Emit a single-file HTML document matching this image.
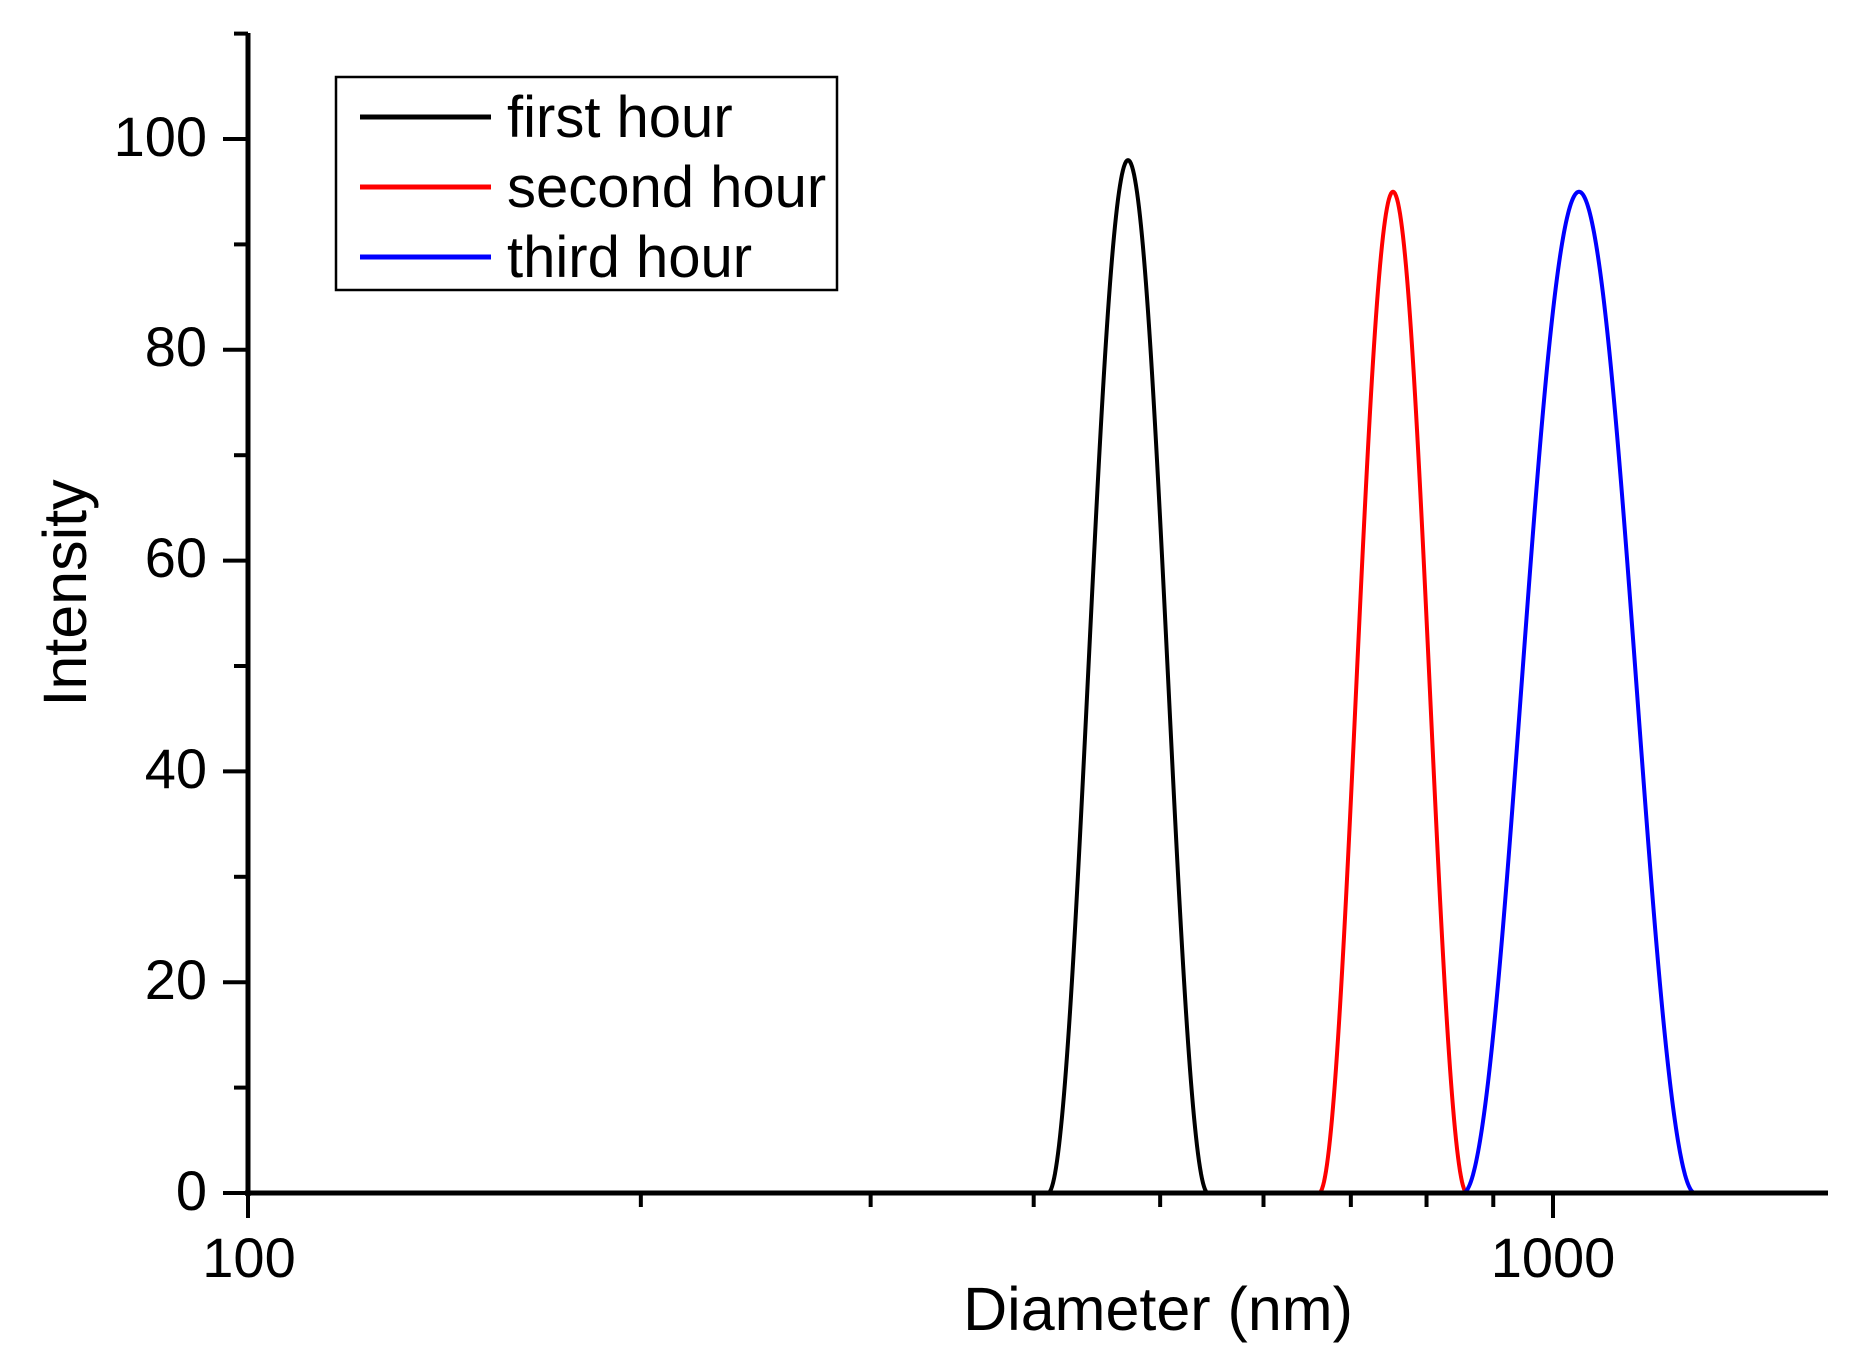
<!DOCTYPE html>
<html><head><meta charset="utf-8"><style>html,body{margin:0;padding:0;background:#fff}svg{display:block}</style></head>
<body>
<svg id="s" width="1859" height="1366" viewBox="0 0 1859 1366" xmlns="http://www.w3.org/2000/svg" font-family="Liberation Sans, Arial, sans-serif">
<g id="curves" fill="none" stroke-width="4" stroke-linejoin="round"></g>
<g stroke="#000" stroke-width="5" fill="none">
<line x1="248" y1="33" x2="248" y2="1196"/>
<line x1="245" y1="1193" x2="1828" y2="1193"/>
</g>
<g id="ticks" stroke="#000" stroke-width="4"></g>
<g font-size="56" fill="#000">
<text x="207" y="1210" text-anchor="end">0</text>
<text x="207" y="999" text-anchor="end">20</text>
<text x="207" y="788" text-anchor="end">40</text>
<text x="207" y="577" text-anchor="end">60</text>
<text x="207" y="366" text-anchor="end">80</text>
<text x="207" y="156" text-anchor="end">100</text>
<text x="249" y="1277" text-anchor="middle">100</text>
<text x="1553" y="1277" text-anchor="middle">1000</text>
<text x="1158" y="1330" text-anchor="middle" font-size="61">Diameter (nm)</text>
<text transform="translate(86,593) rotate(-90)" text-anchor="middle" font-size="61">Intensity</text>
</g>
<rect x="336" y="77" width="501" height="213" fill="none" stroke="#000" stroke-width="2.5"/>
<g stroke-width="5">
<line x1="360" y1="117" x2="491" y2="117" stroke="#000"/>
<line x1="360" y1="187" x2="491" y2="187" stroke="#f00"/>
<line x1="360" y1="257" x2="491" y2="257" stroke="#00f"/>
</g>
<g font-size="58" fill="#000">
<text x="507" y="137">first hour</text>
<text x="507" y="207">second hour</text>
<text x="507" y="277">third hour</text>
</g>
</svg>
<script>
var NS="http://www.w3.org/2000/svg";
function X(d){return 248+Math.log10(d/100)*1305;}
function Y(v){return 1193-v*10.54;}
var t=document.getElementById('ticks'),h='';
for(var v=0;v<=110;v+=10){var L=(v%20==0)?25:14;h+='<line x1="'+(248-L)+'" y1="'+Y(v)+'" x2="248" y2="'+Y(v)+'"/>';}
[100,1000].forEach(function(d){h+='<line x1="'+X(d)+'" y1="1193" x2="'+X(d)+'" y2="1218"/>';});
for(var d=200;d<=900;d+=100)h+='<line x1="'+X(d)+'" y1="1193" x2="'+X(d)+'" y2="1207"/>';
t.innerHTML=h;
function curve(x0,x1,c,peak,w,color){
 var p='';
 for(var x=x0;x<=x1;x+=1){
  var u=(x-c)/w, v=0;
  if(Math.abs(u)<1){v=peak*Math.pow(Math.cos(u*Math.PI/2),2);}
  p+=(p?'L':'M')+x+' '+Y(v).toFixed(1);
 }
 var e=document.createElementNS(NS,'path');e.setAttribute('d',p);e.setAttribute('stroke',color);
 document.getElementById('curves').appendChild(e);
}
curve(248,1828,1128,98,80,'#000');
curve(935,1828,1393,95,74,'#f00');
curve(935,1828,1579,95,116,'#00f');
</script>
</body></html>
